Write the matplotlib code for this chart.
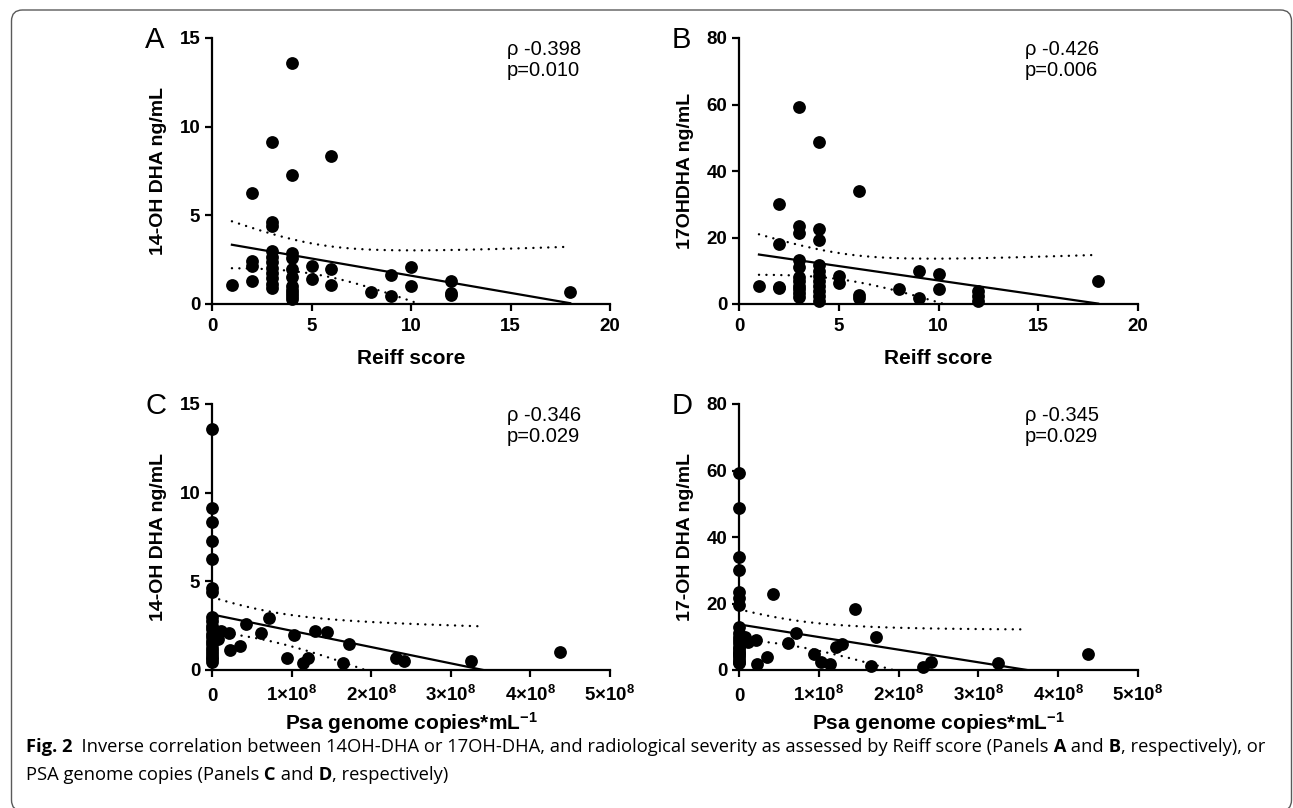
import numpy as np
import matplotlib
matplotlib.use('Agg')
import matplotlib.pyplot as plt
from matplotlib.patches import FancyBboxPatch
from matplotlib.transforms import IdentityTransform

plt.rcParams['font.family'] = 'Liberation Sans'
plt.rcParams['mathtext.fontset'] = 'custom'
plt.rcParams['mathtext.rm'] = 'Liberation Sans:bold'
plt.rcParams['mathtext.bf'] = 'Liberation Sans:bold'
plt.rcParams['mathtext.default'] = 'bf'

# ---- data ----
# Reiff score per patient (panels A and B)
reiff_score = [1,
               2, 2, 2, 2,
               3, 3, 3, 3, 3, 3, 3, 3, 3, 3, 3,
               4, 4, 4, 4, 4, 4, 4, 4, 4, 4, 4,
               5, 5,
               6, 6, 6,
               8,
               9, 9,
               10, 10,
               12, 12, 12,
               18]
# 14-OH DHA ng/mL (panel A)
dha14_reiff = [1.05,
               6.26, 2.44, 2.12, 1.28,
               9.14, 4.60, 4.38, 2.97, 2.65, 2.35, 2.05, 1.75, 1.45, 1.15, 0.90,
               13.59, 7.26, 2.90, 2.60, 2.00, 1.50, 1.00, 0.80, 0.60, 0.45, 0.30,
               2.12, 1.41,
               8.36, 1.97, 1.09,
               0.66,
               1.65, 0.43,
               2.07, 1.03,
               1.32, 0.62, 0.50,
               0.68]
# 17-OH DHA ng/mL (panel B)
dha17_reiff = [5.3,
               30.2, 18.1, 5.0, 4.7,
               59.2, 23.4, 21.4, 13.3, 11.0, 8.0, 6.8, 5.5, 4.6, 3.2, 2.0,
               48.6, 22.7, 19.3, 11.8, 10.0, 8.5, 7.0, 5.5, 4.0, 2.5, 1.0,
               8.3, 6.3,
               34.1, 2.8, 1.8,
               4.5,
               9.8, 1.8,
               9.0, 4.5,
               4.0, 2.5, 1.0,
               6.8]

# Psa genome copies per mL (panels C and D)
psa_copies = [0, 0, 0, 0, 0, 0, 0, 0, 0, 0, 0, 0, 0, 0, 0, 0, 0, 0, 0, 0, 0,
              0.07e8, 0.11e8, 0.21e8, 0.23e8, 0.35e8, 0.43e8, 0.61e8, 0.71e8,
              0.94e8, 1.03e8, 1.14e8, 1.21e8, 1.29e8, 1.45e8, 1.65e8, 1.72e8,
              2.31e8, 2.41e8, 3.25e8, 4.37e8]
dha14_psa = [13.57, 9.15, 8.36, 7.27, 6.24, 4.60, 4.42, 3.00, 2.75, 2.50, 2.30,
             2.05, 1.85, 1.65, 1.45, 1.25, 1.05, 0.90, 0.75, 0.60, 0.45,
             1.73, 2.20, 2.07, 1.10, 1.36, 2.62, 2.08, 2.94,
             0.66, 1.97, 0.41, 0.70, 2.22, 2.14, 0.39, 1.48,
             0.66, 0.52, 0.53, 1.03]
dha17_psa = [59.3, 48.6, 34.1, 30.1, 23.4, 21.8, 19.5, 13.0, 11.0, 10.0, 9.0,
             8.0, 7.0, 6.3, 5.5, 5.0, 4.5, 4.0, 3.0, 2.5, 2.0,
             9.8, 8.3, 9.0, 1.8, 3.8, 22.8, 8.0, 11.0,
             4.7, 2.5, 1.8, 7.0, 7.7, 18.2, 1.3, 10.0,
             0.8, 2.5, 2.0, 4.7]

rho_text = ['\u03c1 -0.398\np=0.010', '\u03c1 -0.426\np=0.006',
            '\u03c1 -0.346\np=0.029', '\u03c1 -0.345\np=0.029']
psa_ticks = [0, 1e8, 2e8, 3e8, 4e8, 5e8]
psa_ticklabels = ['0', '1\u00d710$^{8}$', '2\u00d710$^{8}$', '3\u00d710$^{8}$',
                  '4\u00d710$^{8}$', '5\u00d710$^{8}$']

T_CRIT = 2.0227  # t(0.975), 39 df

W, H = 1293, 808
fig = plt.figure(figsize=(W / 100, H / 100), dpi=100)


def axes_px(left, top, right, bottom):
    return fig.add_axes([left / W, 1 - bottom / H, (right - left) / W, (bottom - top) / H])


def panel(ax, x, y, xmax, ymax, xticks, yticks, ylabel, xlabel, letter, stat, tx):
    x = np.asarray(x, float)
    y = np.asarray(y, float)
    n = len(x)
    # linear fit with 95% confidence band
    slope, icpt = np.polyfit(x, y, 1)
    s = np.sqrt(np.sum((y - (icpt + slope * x)) ** 2) / (n - 2))
    xbar = x.mean()
    sxx = np.sum((x - xbar) ** 2)
    x_end = min(x.max(), -icpt / slope) if slope < 0 else x.max()
    xs = np.linspace(x.min(), x_end, 300)
    fit = icpt + slope * xs
    half = T_CRIT * s * np.sqrt(1 / n + (xs - xbar) ** 2 / sxx)

    ax.plot(xs, fit, color='black', lw=1.6, zorder=2)
    for band in (fit + half, fit - half):
        ax.plot(xs, band, color='black', lw=1.7, ls=(0, (0.05, 3.1)),
                dash_capstyle='round', zorder=2)
    ax.scatter(x, y, s=85, color='black', zorder=3, clip_on=False, linewidths=0)

    ax.set_xlim(0, xmax)
    ax.set_ylim(0, ymax)
    ax.set_xticks(xticks)
    ax.set_yticks(yticks)
    for sp in ['top', 'right']:
        ax.spines[sp].set_visible(False)
    for sp in ['left', 'bottom']:
        ax.spines[sp].set_linewidth(1.6)
    ax.tick_params(width=1.6, length=5, labelsize=13.5)
    ax.tick_params(axis='x', pad=5)
    for lab in ax.get_xticklabels() + ax.get_yticklabels():
        lab.set_fontweight('bold')

    ax.set_ylabel(ylabel, fontsize=14, fontweight='bold')
    ax.yaxis.set_label_coords(-0.112, 0.5)
    ax.set_xlabel(xlabel, fontsize=15, fontweight='bold', va='baseline')
    ax.xaxis.set_label_coords(0.5, -0.226)

    ax.text(tx, 0.993, stat, transform=ax.transAxes, fontsize=14.5,
            va='top', ha='left', linespacing=1.15)
    ax.text(-0.168, 1.045, letter, transform=ax.transAxes, fontsize=21,
            va='top', ha='left')


ax_a = axes_px(212, 38, 610, 304)
ax_b = axes_px(739, 38, 1138, 304)
ax_c = axes_px(212, 404, 610, 670)
ax_d = axes_px(739, 404, 1138, 670)

panel(ax_a, reiff_score, dha14_reiff, 20, 15, [0, 5, 10, 15, 20], [0, 5, 10, 15],
      '14-OH DHA ng/mL', 'Reiff score', 'A', rho_text[0], 0.741)
panel(ax_b, reiff_score, dha17_reiff, 20, 80, [0, 5, 10, 15, 20], [0, 20, 40, 60, 80],
      '17OHDHA ng/mL', 'Reiff score', 'B', rho_text[1], 0.717)
panel(ax_c, psa_copies, dha14_psa, 5e8, 15, psa_ticks, [0, 5, 10, 15],
      '14-OH DHA ng/mL', 'Psa genome copies*mL$^{-1}$', 'C', rho_text[2], 0.741)
panel(ax_d, psa_copies, dha17_psa, 5e8, 80, psa_ticks, [0, 20, 40, 60, 80],
      '17-OH DHA ng/mL', 'Psa genome copies*mL$^{-1}$', 'D', rho_text[3], 0.717)

for ax in (ax_c, ax_d):
    ax.set_xticklabels(psa_ticklabels, fontweight='bold')
    ax.tick_params(axis='x', pad=17)
    for lab in ax.get_xticklabels():
        lab.set_verticalalignment('baseline')

# rounded frame around the figure
frame = FancyBboxPatch((11.5, -3), W - 13, H - 10 + 3,
                       boxstyle='round,pad=0,rounding_size=11',
                       transform=IdentityTransform(), fill=False,
                       edgecolor='#5a5a5a', lw=1.0)
fig.add_artist(frame)

# caption with mixed weights, pieces chained one after another
cap_font = ['Open Sans', 'DejaVu Sans']
cap_size = 13.2
line1 = [('Fig. 2', 'bold'),
         ('  Inverse correlation between 14OH-DHA or 17OH-DHA, and radiological severity '
          'as assessed by Reiff score (Panels', 'normal'),
         (' A', 'bold'), (' and', 'normal'), (' B', 'bold'),
         (', respectively), or', 'normal')]
line2 = [('PSA genome copies (Panels', 'normal'), (' C', 'bold'), (' and', 'normal'),
         (' D', 'bold'), (', respectively)', 'normal')]

for parts, base in ((line1, 752), (line2, 780)):
    prev = fig.text(26 / W, 1 - base / H, parts[0][0], fontsize=cap_size,
                    fontweight=parts[0][1], family=cap_font, va='baseline')
    for txt, wt in parts[1:]:
        prev = plt.annotate(txt, xy=(1, 0), xycoords=prev, va='bottom', ha='left',
                            fontsize=cap_size, fontweight=wt, family=cap_font,
                            annotation_clip=False)

fig.savefig('out.png', dpi=100)
